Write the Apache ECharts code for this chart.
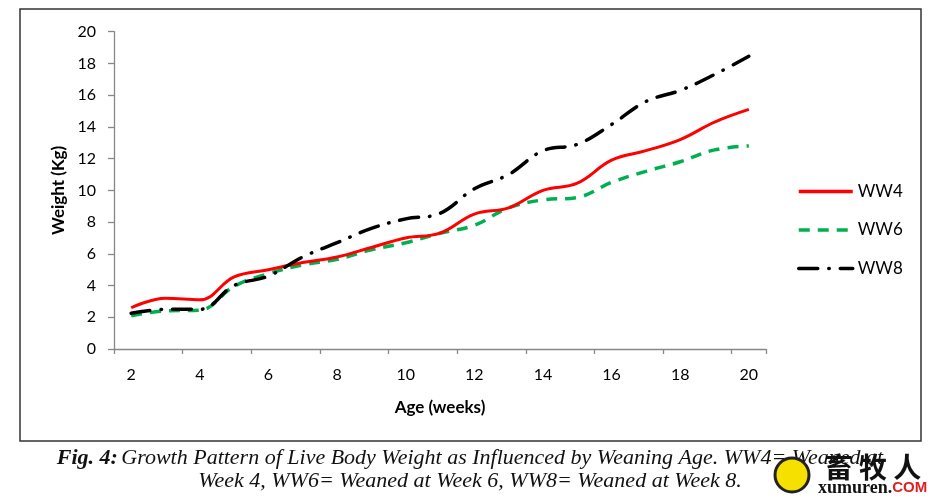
<!DOCTYPE html>
<html>
<head>
<meta charset="utf-8">
<script src="https://cdn.jsdelivr.net/npm/echarts@6/dist/echarts.min.js"></script>
<style>html,body{margin:0;padding:0;background:#fff;}#c{width:944px;height:498px;}</style>
</head>
<body>
<div id="c"></div>
<script>
var weeks = ['2','3','4','5','6','7','8','9','10','11','12','13','14','15','16','17','18','19','20'];
var ww4 = [2.6, 3.2, 3.1, 4.55, 5.0, 5.45, 5.8, 6.4, 7.0, 7.3, 8.5, 8.9, 10.0, 10.45, 11.9, 12.5, 13.2, 14.3, 15.1];
var ww6 = [2.1, 2.4, 2.45, 3.95, 4.75, 5.3, 5.65, 6.25, 6.7, 7.3, 7.8, 8.9, 9.4, 9.55, 10.5, 11.2, 11.8, 12.55, 12.8];
var ww8 = [2.25, 2.5, 2.5, 4.0, 4.6, 5.8, 6.7, 7.6, 8.2, 8.55, 10.1, 11.0, 12.5, 12.9, 14.15, 15.6, 16.3, 17.3, 18.45];
var seriesNames = ['WW4', 'WW6', 'WW8'];
var captionLine1 = 'Growth Pattern of Live Body Weight as Influenced by Weaning Age. WW4= Weaned at';
var captionLine2 = 'Week 4, WW6= Weaned at Week 6, WW8= Weaned at Week 8.';

var chart = echarts.init(document.getElementById('c'), null, {renderer: 'canvas'});
var font = 'Lato, "Open Sans", sans-serif';
var axisColor = '#888888';
chart.setOption({
  animation: false,
  backgroundColor: '#ffffff',
  grid: {left: 114, right: 178, top: 31.7, bottom: 149, containLabel: false},
  xAxis: {
    type: 'category',
    data: weeks,
    boundaryGap: true,
    name: 'Age (weeks)',
    nameLocation: 'middle',
    nameGap: 50,
    nameTextStyle: {fontFamily: font, fontWeight: 'bold', fontSize: 17, color: '#000'},
    axisLine: {lineStyle: {color: axisColor, width: 1.3}},
    axisTick: {show: true, interval: 1, length: 5, alignWithLabel: false, lineStyle: {color: axisColor, width: 1.3}},
    axisLabel: {interval: 1, margin: 18, fontFamily: font, fontSize: 16, color: '#000'},
    splitLine: {show: false}
  },
  yAxis: {
    type: 'value',
    min: 0, max: 20, interval: 2,
    name: 'Weight (Kg)',
    nameLocation: 'middle',
    nameGap: 46,
    nameRotate: 90,
    nameTextStyle: {fontFamily: font, fontWeight: 'bold', fontSize: 17, color: '#000'},
    axisLine: {show: true, lineStyle: {color: axisColor, width: 1.3}},
    axisTick: {show: true, length: 6, lineStyle: {color: axisColor, width: 1.3}},
    axisLabel: {margin: 18, fontFamily: font, fontSize: 16, color: '#000'},
    splitLine: {show: false}
  },
  legend: {
    orient: 'vertical',
    left: 792,
    top: 178,
    itemWidth: 54,
    itemHeight: 14,
    itemGap: 21.5,
    data: seriesNames,
    itemStyle: {color: 'transparent', borderWidth: 0, opacity: 0},
    lineStyle: {width: 3.5},
    textStyle: {fontFamily: font, fontSize: 17, color: '#000'}
  },
  series: [
    {name: seriesNames[0], type: 'line', data: ww4, smooth: 0.4, symbol: 'none',
     lineStyle: {color: '#ff0000', width: 3}, itemStyle: {color: '#ff0000'}, z: 3},
    {name: seriesNames[1], type: 'line', data: ww6, smooth: 0.4, symbol: 'none',
     lineStyle: {color: '#00b050', width: 3.5, type: [11, 8]}, itemStyle: {color: '#00b050'}, z: 2},
    {name: seriesNames[2], type: 'line', data: ww8, smooth: 0.4, symbol: 'none',
     lineStyle: {color: '#000000', width: 3.5, type: [19, 11, 0.5, 11], cap: 'round'}, itemStyle: {color: '#000'}, z: 4}
  ],
  graphic: [
    {type: 'rect', shape: {x: 20, y: 9, width: 901, height: 432}, style: {fill: 'none', stroke: '#333', lineWidth: 1.5}, silent: true},
    {type: 'text', x: 470, y: 458, style: {
      text: '{b|Fig. 4:} {i|' + captionLine1 + '}',
      align: 'center', verticalAlign: 'middle',
      rich: {
        b: {fontFamily: '"Liberation Serif", serif', fontStyle: 'italic', fontWeight: 'bold', fontSize: 22, fill: '#111'},
        i: {fontFamily: '"Liberation Serif", serif', fontStyle: 'italic', fontSize: 22, fill: '#111'}
      }
    }},
    {type: 'text', x: 470, y: 481, style: {
      text: captionLine2, align: 'center', verticalAlign: 'middle',
      fontFamily: '"Liberation Serif", serif', fontStyle: 'italic', fontSize: 22, fill: '#111'
    }},
    {type: 'circle', shape: {cx: 792, cy: 475, r: 17}, style: {fill: '#f5e000', stroke: '#222', lineWidth: 3}},
    {type: 'text', x: 873, y: 467, style: {text: '畜 牧 人', align: 'center', verticalAlign: 'middle',
      fontFamily: '"Noto Sans CJK SC", sans-serif', fontWeight: 'bold', fontSize: 28, fill: '#111'}},
    {type: 'text', x: 818, y: 488, style: {
      text: '{a|xumuren.}{c|COM}', verticalAlign: 'middle',
      rich: {a: {fontFamily: '"Liberation Serif", serif', fontWeight: 'bold', fontSize: 18, fill: '#111'},
             c: {fontFamily: '"Liberation Sans", sans-serif', fontWeight: 'bold', fontSize: 15, fill: '#e02020'}}
    }}
  ]
});
</script>
</body>
</html>
